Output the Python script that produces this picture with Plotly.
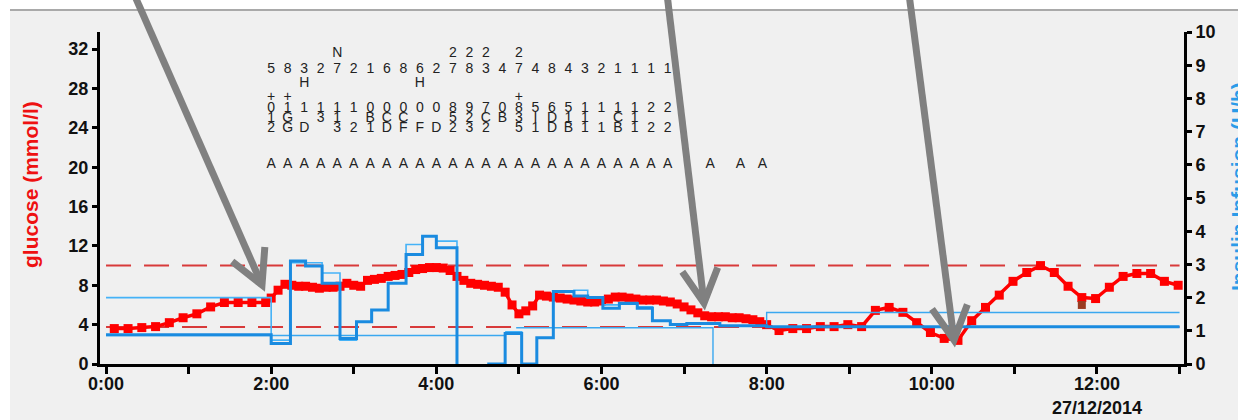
import numpy as np
import plotly.graph_objects as go

W, H = 1238, 420
ML, MR, MT, MB = 100, 54, 32, 56
PW, PH = W - ML - MR, H - MT - MB

X_MIN, X_MAX = -0.073, 13.054      # hours
GLU_MAX = 33.74
INS_MAX = 10.0

# ---------------- glucose (mmol/l) ----------------
early_min = [6, 16, 26, 36, 46, 56, 66, 76, 86, 96, 106, 116]
early_glu = [3.6, 3.6, 3.7, 3.8, 4.2, 4.7, 5.1, 5.8, 6.25, 6.25, 6.25, 6.25]

dense_min = [120, 125, 130, 135, 140, 145, 150, 155, 160, 165, 170, 175,
             180, 185, 190, 195, 200, 205, 210, 215, 220, 225, 230, 235,
             240, 245, 250, 255, 260, 265, 270, 275, 280, 285, 290, 295,
             300, 305, 310, 315, 320, 325, 330, 335, 340, 345, 350, 355,
             360, 365, 370, 375, 380, 385, 390, 395, 400, 405, 410, 415,
             420, 425, 430, 435, 440, 445, 450, 455, 460, 465, 470, 475, 480]
dense_glu = [6.7, 7.5, 8.1, 8.0, 7.9, 7.9, 7.8, 7.7, 7.8, 7.8, 7.9, 8.2,
             8.0, 7.9, 8.5, 8.6, 8.7, 8.9, 9.0, 9.1, 9.3, 9.6, 9.7, 9.8,
             9.8, 9.75, 9.5, 8.9, 8.5, 8.2, 8.1, 8.0, 7.9, 7.8, 7.3, 6.0,
             5.1, 5.4, 5.9, 7.0, 6.9, 6.8, 6.7, 6.6, 6.5, 6.4, 6.3, 6.3,
             6.4, 6.6, 6.8, 6.8, 6.7, 6.6, 6.5, 6.5, 6.5, 6.4, 6.3, 6.1,
             5.8, 5.5, 5.2, 4.9, 4.8, 4.8, 4.8, 4.7, 4.7, 4.6, 4.5, 4.3, 4.0]

late_min = [489, 499, 509, 519, 529, 539, 549, 559, 569, 579, 589, 599, 609, 619, 629,
            639, 649, 659, 669, 679, 689, 699, 709, 719, 729, 739, 749, 759, 769, 779]
late_glu = [3.4, 3.6, 3.6, 3.8, 3.8, 4.0, 3.8, 5.45, 5.75, 5.25, 4.2, 3.2, 2.6, 2.4, 4.4,
            5.75, 7.0, 8.4, 9.3, 10.0, 9.3, 7.9, 6.75, 6.65, 7.8, 8.9, 9.2, 9.2, 8.4, 8.0]

odd_min = [709]
odd_glu = [6.0]

GLU_HIGH = 10.0
GLU_LOW = 3.75

# ---------------- insulin infusion (U/h) ----------------
ins_a_min = [0, 120, 134, 145, 157, 170, 182, 193, 205, 218, 230, 240, 255]
ins_a_rate = [0.88, 0.62, 3.1, 2.95, 2.43, 0.77, 1.27, 1.63, 2.43, 3.3, 3.85, 3.5, 0.0]
ins_a2_min = [277, 290, 302, 313, 325, 340, 350, 361, 373, 386, 397, 410, 422, 446, 480, 780]
ins_a2_rate = [0.0, 0.92, 0.0, 0.79, 2.18, 2.05, 2.0, 1.68, 1.82, 1.68, 1.3, 1.19, 1.22, 1.15, 1.12, 1.12]

ins_b_min = [0, 120, 134, 145, 157, 170, 182, 193, 205, 218, 230, 240, 255]
ins_b_rate = [2.0, 0.72, 3.05, 3.05, 2.74, 0.72, 1.27, 1.63, 2.43, 3.6, 3.85, 3.7, 0.0]
ins_b2_min = [290, 302]
ins_b2_rate = [0.97, 0.0]
ins_b3_min = [325, 340, 350, 361, 373, 386, 397, 410]
ins_b3_rate = [2.2, 2.22, 2.0, 1.78, 1.85, 1.72, 1.3, 1.19]

ins_c1_min = [0, 290]
ins_c1_rate = [0.86, 0.86]
ins_c2_min = [298, 441, 441]
ins_c2_rate = [1.09, 1.09, 0.0]
ins_c3_min = [480, 480, 780]
ins_c3_rate = [1.2, 1.55, 1.55]

# ---------------- code grid ----------------
col_min = [120, 132, 144, 156, 168, 180, 192, 204, 216, 228, 240, 252, 264,
           276, 288, 300, 312, 324, 336, 348, 360, 372, 384, 396, 408]
row_super = "    N      222 2         "
row_main = "5832721686278347484321111"
row_sub = "  H      H               "
row_plus = "++             +         "
row_2 = "0111110000089708565111122"
row_3 = "1G 31 BCC  52CB3ID11 C1  "
row_4 = "2GD 321DFFD232 51DB11B122"
row_a = "AAAAAAAAAAAAAAAAAAAAAAAAA"
extra_a_min = [439, 461, 477]
row_levels = {"super": 31.55, "main": 29.9, "sub": 28.5, "plus": 27.1,
              "r2": 25.95, "r3": 24.95, "r4": 23.95, "a": 20.25}

x_tickvals = list(range(0, 14))
x_ticktext = ["0:00", "", "2:00", "", "4:00", "", "6:00", "", "8:00", "", "10:00", "",
              "12:00", ""]
date_label = "27/12/2014"
date_hour = 12

# ---------------- figure ----------------
def hrs(m):
    return [None if v is None else v / 60.0 for v in m]

def join(*segs):
    xs, ys = [], []
    for i, (mx, my) in enumerate(segs):
        if i:
            xs.append(None); ys.append(None)
        xs += hrs(mx); ys += list(my)
    return xs, ys

fig = go.Figure()

for lim in (GLU_HIGH, GLU_LOW):
    fig.add_trace(go.Scatter(x=[0, 13], y=[lim, lim], mode="lines", yaxis="y",
                             line=dict(color="#d83a3a", width=2, dash="25px,13px"),
                             hoverinfo="skip", showlegend=False))

cx, cy = join((ins_c1_min, ins_c1_rate), (ins_c2_min, ins_c2_rate), (ins_c3_min, ins_c3_rate))
fig.add_trace(go.Scatter(x=cx, y=cy, mode="lines", yaxis="y2", line=dict(color="#3aa8f0", width=1.4, shape="hv"),
                         showlegend=False))
bx, by = join((ins_b_min, ins_b_rate), (ins_b2_min, ins_b2_rate), (ins_b3_min, ins_b3_rate))
fig.add_trace(go.Scatter(x=bx, y=by, mode="lines", yaxis="y2", line=dict(color="#45b2f7", width=1.6, shape="hv"),
                         showlegend=False))
ax_, ay_ = join((ins_a_min, ins_a_rate), (ins_a2_min, ins_a2_rate))
fig.add_trace(go.Scatter(x=ax_, y=ay_, mode="lines", yaxis="y2", line=dict(color="#1a8be0", width=3, shape="hv"),
                         showlegend=False))

g_min = early_min + dense_min + late_min
g_val = early_glu + dense_glu + late_glu
fig.add_trace(go.Scatter(x=hrs(g_min), y=g_val, mode="lines+markers", yaxis="y",
                         line=dict(color="#ff0000", width=3.5),
                         marker=dict(symbol="square", size=9, color="#ff0000"),
                         showlegend=False))
fig.add_trace(go.Scatter(x=hrs(odd_min), y=odd_glu, mode="markers", yaxis="y",
                         marker=dict(symbol="square", size=8, color="#9a3c22"), showlegend=False))

GRID_FONT = dict(family="Arial, Liberation Sans", size=14, color="#222222")

def add_row(s, level):
    xs = [col_min[i] / 60.0 for i, ch in enumerate(s) if ch != " "]
    ts = [ch for ch in s if ch != " "]
    fig.add_trace(go.Scatter(x=xs, y=[level] * len(xs), mode="text", text=ts, yaxis="y",
                             textposition="middle center", textfont=GRID_FONT,
                             hoverinfo="skip", showlegend=False))

add_row(row_super, row_levels["super"])
add_row(row_main, row_levels["main"])
add_row(row_sub, row_levels["sub"])
add_row(row_plus, row_levels["plus"])
add_row(row_2, row_levels["r2"])
add_row(row_3, row_levels["r3"])
add_row(row_4, row_levels["r4"])
add_row(row_a, row_levels["a"])
fig.add_trace(go.Scatter(x=hrs(extra_a_min), y=[row_levels["a"]] * len(extra_a_min), mode="text",
                         text=["A"] * len(extra_a_min), yaxis="y", textposition="middle center",
                         textfont=GRID_FONT, hoverinfo="skip", showlegend=False))

def pp(px, py):
    return (px - ML) / PW, (H - MB - py) / PH

shapes = []
x0, y0 = pp(10, 10)
x1, y1 = pp(W + 5, H + 5)
shapes.append(dict(type="rect", xref="paper", yref="paper", x0=x0, y0=y1, x1=x1, y1=y0,
                   fillcolor="#f0f0f0", line=dict(width=0), layer="below"))
shapes.append(dict(type="line", xref="paper", yref="paper", x0=x0, y0=y0, x1=x1, y1=y0,
                   line=dict(color="#a9a9a9", width=2), layer="below"))

arrows = [((134, -6), (262, 285)), ((667, -6), (704, 303)), ((909, -6), (954, 340))]
for (tx, ty), (hx, hy) in arrows:
    d = np.array([hx - tx, hy - ty], float)
    d /= np.linalg.norm(d)
    L, th = 38, np.radians(28)
    pts = []
    for s in (1, -1):
        c, sn = np.cos(s * th), np.sin(s * th)
        r = np.array([c * -d[0] - sn * -d[1], sn * -d[0] + c * -d[1]])
        pts.append((hx + L * r[0], hy + L * r[1]))
    a0 = pp(tx, ty); a1 = pp(hx, hy)
    shapes.append(dict(type="line", xref="paper", yref="paper", x0=a0[0], y0=a0[1], x1=a1[0], y1=a1[1],
                       line=dict(color="#808080", width=7), layer="above"))
    p1 = pp(*pts[0]); p2 = pp(*pts[1])
    shapes.append(dict(type="path", xref="paper", yref="paper",
                       path=f"M {p1[0]},{p1[1]} L {a1[0]},{a1[1]} L {p2[0]},{p2[1]}",
                       line=dict(color="#808080", width=7), layer="above"))

tickfont = dict(family="Arial, Liberation Sans", size=18, color="#111111", weight="bold")

lt = pp(30, 185)
rt = pp(1238, 187)
dp = pp(0, 408)
annotations = [
    dict(xref="paper", yref="paper", x=lt[0], y=lt[1], text="glucose (mmol/l)", showarrow=False,
         textangle=-90, xanchor="center", yanchor="middle",
         font=dict(family="Arial, Liberation Sans", size=21, color="#ee1111", weight="bold")),
    dict(xref="paper", yref="paper", x=rt[0], y=rt[1], text="Insulin Infusion (U/h)", showarrow=False,
         textangle=-90, xanchor="center", yanchor="middle",
         font=dict(family="Arial, Liberation Sans", size=21, color="#2b9be8", weight="bold")),
    dict(xref="x", yref="paper", x=date_hour, y=dp[1], text=date_label, showarrow=False,
         xanchor="center", yanchor="middle", font=tickfont),
]

fig.update_layout(
    width=W, height=H, margin=dict(l=ML, r=MR, t=MT, b=MB, pad=0, autoexpand=False),
    paper_bgcolor="white", plot_bgcolor="rgba(0,0,0,0)",
    showlegend=False, shapes=shapes, annotations=annotations,
    xaxis=dict(range=[X_MIN, X_MAX], tickvals=x_tickvals, ticktext=x_ticktext, showgrid=False,
               zeroline=False, showline=True, linecolor="black", linewidth=3, ticks="outside",
               ticklen=7, tickwidth=2.5, tickcolor="black", tickfont=tickfont, automargin=False,
               ticklabelstandoff=-6),
    yaxis=dict(range=[0, GLU_MAX], tickvals=list(range(0, 33, 4)), showgrid=False, zeroline=False,
               showline=True, linecolor="black", linewidth=3, ticks="outside", ticklen=5,
               tickwidth=2.5, tickcolor="black", tickfont=tickfont, automargin=False),
    yaxis2=dict(range=[0, INS_MAX], overlaying="y", side="right", tickvals=list(range(0, 11)),
                showgrid=False, zeroline=False, showline=True, linecolor="black", linewidth=3,
                ticks="outside", ticklen=5, tickwidth=2.5, tickcolor="black", tickfont=tickfont,
                automargin=False),
)

fig.write_html("out.html", config={"displayModeBar": False},
               post_script="document.body.style.margin='0';")
